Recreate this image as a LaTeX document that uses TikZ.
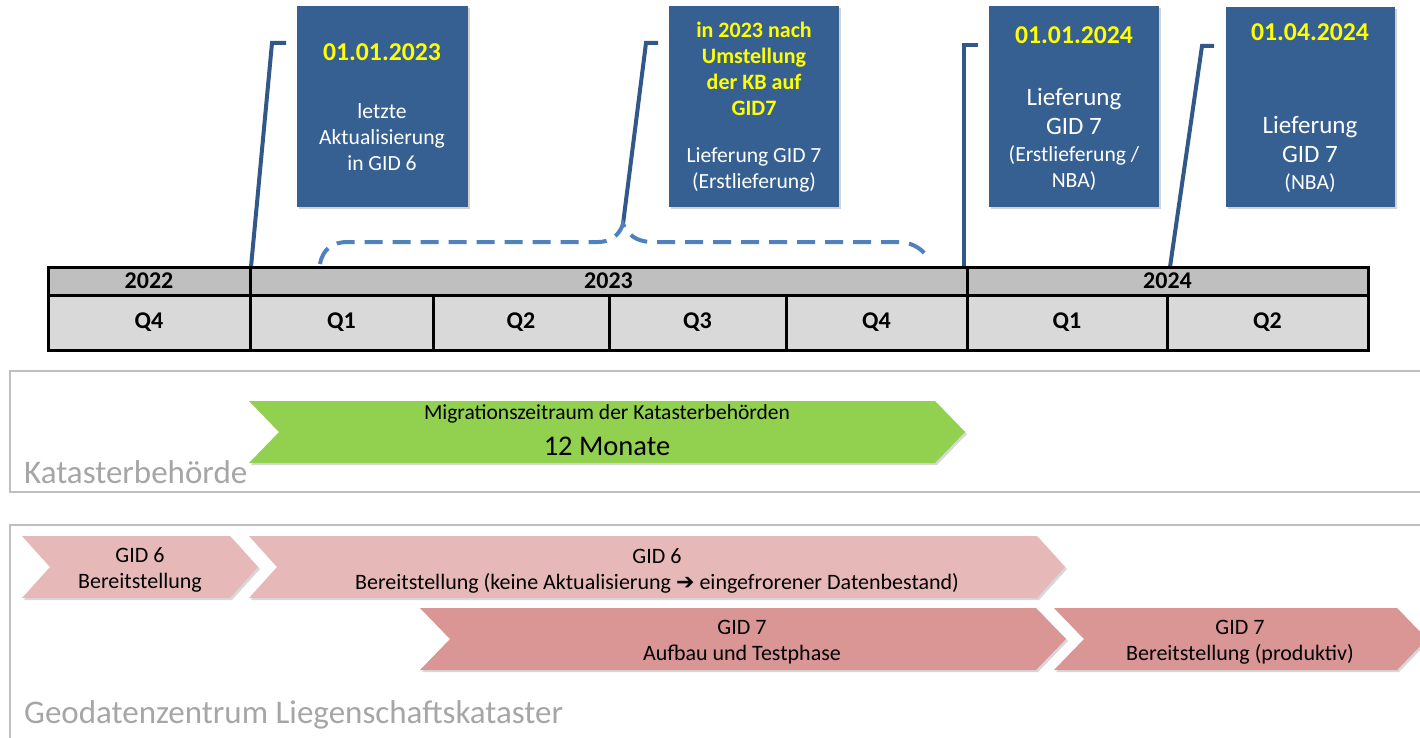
\documentclass[tikz,border=0pt]{standalone}
\usepackage{fontspec}
\setmainfont{Carlito}
\newfontfamily\symfont{DejaVu Sans}
\usetikzlibrary{shadows}
\definecolor{boxblue}{RGB}{55,96,146}
\definecolor{lineblue}{RGB}{50,88,138}
\definecolor{dashblue}{RGB}{79,129,189}
\definecolor{dateyellow}{RGB}{255,255,0}
\definecolor{chevgreen}{RGB}{146,208,80}
\definecolor{pinklight}{RGB}{230,185,184}
\definecolor{pinkdark}{RGB}{217,150,148}
\definecolor{secgray}{RGB}{191,191,191}
\definecolor{labgray}{RGB}{166,166,166}
\definecolor{yearfill}{RGB}{191,191,191}
\definecolor{qfill}{RGB}{217,217,217}
\newcommand{\fsz}[2]{\fontsize{#1}{#2}\selectfont}
\begin{document}
\begin{tikzpicture}[x=1pt,y=-1pt,
  bluebox/.style={fill=boxblue,draw=none,inner sep=0pt,
    drop shadow={shadow xshift=2pt,shadow yshift=-2pt,opacity=0.35}},
  datetxt/.style={text=dateyellow,font=\bfseries\fsz{25.7}{30},inner sep=0pt},
  ytxt/.style={text=dateyellow,font=\bfseries\fsz{22}{26},align=center,inner sep=0pt},
  wtxt/.style={text=white,font=\fsz{21.6}{26},align=center,inner sep=0pt},
  wbig/.style={text=white,font=\fsz{25}{29},align=center,inner sep=0pt},
  callout/.style={draw=lineblue,line width=4pt,line join=miter},
  bracedash/.style={draw=dashblue,line width=4pt,dash pattern=on 18pt off 10pt},
  yearcell/.style={draw=black,line width=3pt,fill=yearfill,inner sep=0pt,
    minimum height=28pt,font=\bfseries\fsz{24}{28}},
  qcell/.style={draw=black,line width=3pt,fill=qfill,inner sep=0pt,
    minimum height=55pt,font=\bfseries\fsz{24}{28}},
  chevshadow/.style={drop shadow={shadow xshift=2pt,shadow yshift=-2pt,opacity=0.3}},
  chevtxt/.style={font=\fsz{22}{26},align=center,inner sep=0pt,text=black},
  section/.style={draw=secgray,line width=2.5pt},
  seclabel/.style={text=labgray,font=\fsz{33}{38},inner sep=0pt,anchor=base west}
]
\clip (0,0) rectangle (1420,738);
\fill[white] (0,0) rectangle (1420,738);

% sections
\draw[section] (10,371) rectangle (1450,492);
\draw[section] (10,525) rectangle (1450,770);
\node[seclabel] (lab1) at (24,483) {Katasterbehörde};
\node[seclabel] (lab2) at (24,723) {Geodatenzentrum Liegenschaftskataster};

% blue boxes
\node[bluebox,minimum width=171pt,minimum height=201pt] (b1) at (382.5,106.5) {};
\node[bluebox,minimum width=170pt,minimum height=201pt] (b2) at (754,106.5) {};
\node[bluebox,minimum width=170pt,minimum height=201pt] (b3) at (1074,106.5) {};
\node[bluebox,minimum width=169pt,minimum height=200pt] (b4) at (1310.5,107) {};

\node[datetxt] (d1) at (382,52) {01.01.2023};
\node[wtxt] (t1) at (382,137) {letzte\\Aktualisierung\\in GID 6};

\node[ytxt] (d2) at (754,69) {in 2023 nach\\Umstellung\\der KB auf\\GID7};
\node[wtxt] (t2) at (754,170) {Lieferung GID 7\\(Erstlieferung)};

\node[datetxt] (d3) at (1074,35) {01.01.2024};
\node[wbig] (t3) at (1074,111) {Lieferung\\GID 7};
\node[wtxt] (u3) at (1074,168) {(Erstlieferung /\\NBA)};

\node[datetxt] (d4) at (1310,32) {01.04.2024};
\node[wbig] (t4) at (1310,139) {Lieferung\\GID 7};
\node[wtxt] (u4) at (1310,183) {(NBA)};

% callout lines
\coordinate (c1b) at (251,267); \coordinate (c1m) at (272,43); \coordinate (c1t) at (286,43);
\coordinate (c2b) at (623,224); \coordinate (c2m) at (646,43); \coordinate (c2t) at (658,43);
\coordinate (c3b) at (964,267); \coordinate (c3m) at (964,45); \coordinate (c3t) at (978,45);
\coordinate (c4b) at (1170,267); \coordinate (c4m) at (1202,46); \coordinate (c4t) at (1214,46);
\draw[callout] (c1b) -- (c1m) -- (c1t);
\draw[callout] (c2b) -- (c2m) -- (c2t);
\draw[callout] (c3b) -- (c3m) -- (c3t);
\draw[callout] (c4b) -- (c4m) -- (c4t);

% dashed brace
\coordinate (brL) at (320,264);
\coordinate (brR) at (929,260);
\draw[bracedash] (brL) .. controls (323,249) and (332,242) .. (348,242)
  -- (598,242) .. controls (610,242) and (619,236) .. (c2b)
  .. controls (628,235) and (636,241) .. (650,242)
  -- (900,242) .. controls (914,243) and (924,250) .. (brR);

% timeline table
\node[yearcell,minimum width=202pt] (y22) at (149,281) {2022};
\node[yearcell,minimum width=717pt] (y23) at (608.5,281) {2023};
\node[yearcell,minimum width=401pt] (y24) at (1167.5,281) {2024};
\node[qcell,minimum width=202pt] (q4a) at (149,322.5) {Q4};
\node[qcell,minimum width=183pt] (q1a) at (341.5,322.5) {Q1};
\node[qcell,minimum width=176pt] (q2a) at (521,322.5) {Q2};
\node[qcell,minimum width=177pt] (q3a) at (697.5,322.5) {Q3};
\node[qcell,minimum width=181pt] (q4b) at (876.5,322.5) {Q4};
\node[qcell,minimum width=200pt] (q1b) at (1067,322.5) {Q1};
\node[qcell,minimum width=201pt] (q2b) at (1267.5,322.5) {Q2};

% green chevron
\fill[chevgreen,chevshadow] (249,401) -- (935,401) -- (965,432) -- (935,463) -- (249,463) -- (279,432) -- cycle;
\node[font=\fsz{21.5}{24},inner sep=0pt] (m1) at (607,414) {Migrationszeitraum der Katasterbehörden};
\node[font=\fsz{28.5}{32},inner sep=0pt] (m2) at (607,446) {12 Monate};

% pink chevrons
\fill[pinklight,chevshadow] (22,536) -- (230,536) -- (258,567) -- (230,598) -- (22,598) -- (50,567) -- cycle;
\fill[pinklight,chevshadow] (249,536) -- (1037,536) -- (1065,567) -- (1037,598) -- (249,598) -- (277,567) -- cycle;
\fill[pinkdark,chevshadow] (420,608) -- (1036,608) -- (1066,639) -- (1036,670) -- (420,670) -- (450,639) -- cycle;
\fill[pinkdark,chevshadow] (1054,608) -- (1397,608) -- (1427,639) -- (1397,670) -- (1054,670) -- (1084,639) -- cycle;

\node[chevtxt] (g1) at (140,569.5) {GID 6\\Bereitstellung};
\node[chevtxt] (g2) at (657,570.5) {GID 6\\Bereitstellung (keine Aktualisierung {\symfont\bfseries ➔} eingefrorener Datenbestand)};
\node[chevtxt] (g3) at (742,642) {GID 7\\Aufbau und Testphase};
\node[chevtxt] (g4) at (1240,642) {GID 7\\Bereitstellung (produktiv)};
\end{tikzpicture}
\end{document}
